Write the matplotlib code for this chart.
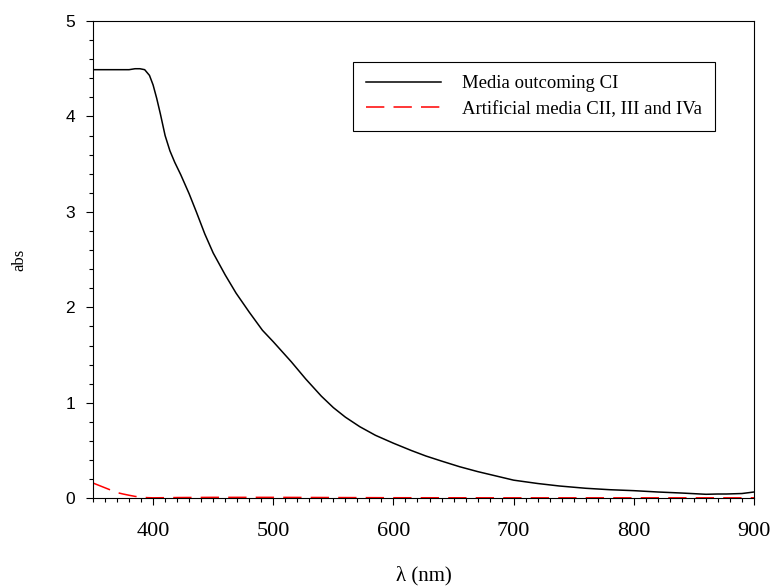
import matplotlib
matplotlib.use("Agg")
import matplotlib.pyplot as plt
from matplotlib.ticker import MultipleLocator

# absorbance spectra
wl_ci = [350, 360, 370, 380, 385, 389, 393, 397, 400, 403, 406, 410, 414, 418,
         423, 430, 436, 443, 450, 460, 469, 480, 491, 500, 505, 515, 527, 540,
         550, 560, 572, 585, 600, 615, 627, 640, 655, 670, 685, 700, 720, 738,
         760, 780, 800, 820, 840, 860, 870, 877, 890, 900]
abs_ci = [4.49, 4.49, 4.49, 4.49, 4.50, 4.50, 4.49, 4.43, 4.33, 4.19, 4.03, 3.80,
          3.64, 3.52, 3.39, 3.19, 3.00, 2.77, 2.57, 2.34, 2.15, 1.95, 1.76, 1.64,
          1.57, 1.43, 1.25, 1.07, 0.95, 0.85, 0.75, 0.66, 0.577, 0.50, 0.443,
          0.39, 0.331, 0.28, 0.235, 0.19, 0.155, 0.129, 0.105, 0.09, 0.08, 0.066,
          0.055, 0.042, 0.045, 0.045, 0.05, 0.066]

wl_art = [350, 355, 360, 365, 370, 375, 380, 385, 390, 395, 400, 420, 450, 500,
          550, 600, 700, 800, 900]
abs_art = [0.16, 0.135, 0.11, 0.085, 0.06, 0.045, 0.032, 0.02, 0.012, 0.007,
           0.005, 0.008, 0.01, 0.01, 0.008, 0.006, 0.005, 0.005, 0.005]

serif = "Liberation Serif"
sans = "Liberation Sans"

fig = plt.figure(figsize=(7.75, 5.86), dpi=100)
ax = fig.add_axes([93 / 775, 1 - 498.3 / 586, 661 / 775, 477.3 / 586])

ax.plot(wl_ci, abs_ci, color="black", lw=1.1, label="Media outcoming CI")
ax.plot(wl_art, abs_art, color="red", lw=1.1, dashes=(12, 6),
        label="Artificial media CII, III and IVa")

ax.set_xlim(350, 900)
ax.set_ylim(0, 5)
ax.xaxis.set_major_locator(MultipleLocator(100))
ax.xaxis.set_minor_locator(MultipleLocator(10))
ax.yaxis.set_major_locator(MultipleLocator(1))
ax.yaxis.set_minor_locator(MultipleLocator(0.2))
ax.set_xticks([400, 500, 600, 700, 800, 900])

ax.tick_params(which="major", direction="out", length=5, width=0.8)
ax.tick_params(which="minor", direction="out", length=2.7, width=0.8)
ax.tick_params(axis="x", pad=12)
ax.tick_params(axis="y", pad=8)
for lab in ax.get_xticklabels():
    lab.set_fontfamily(serif)
    lab.set_fontsize(16)
for lab in ax.get_yticklabels():
    lab.set_fontfamily(sans)
    lab.set_fontsize(12.5)

for sp in ax.spines.values():
    sp.set_linewidth(0.8)

ax.set_xlabel("λ (nm)", fontfamily=serif, fontsize=15, labelpad=18)
ax.set_ylabel("abs", fontfamily=serif, fontsize=12, labelpad=27)

leg = ax.legend(loc="upper left", bbox_to_anchor=(0.393, 0.914),
                borderaxespad=0, prop={"family": serif, "size": 13.5},
                handlelength=4.0, handletextpad=1.1, borderpad=0.7,
                labelspacing=0.45, fancybox=False, framealpha=1)
leg.get_frame().set_edgecolor("black")
leg.get_frame().set_linewidth(0.8)

fig.savefig("out.png", dpi=100)
